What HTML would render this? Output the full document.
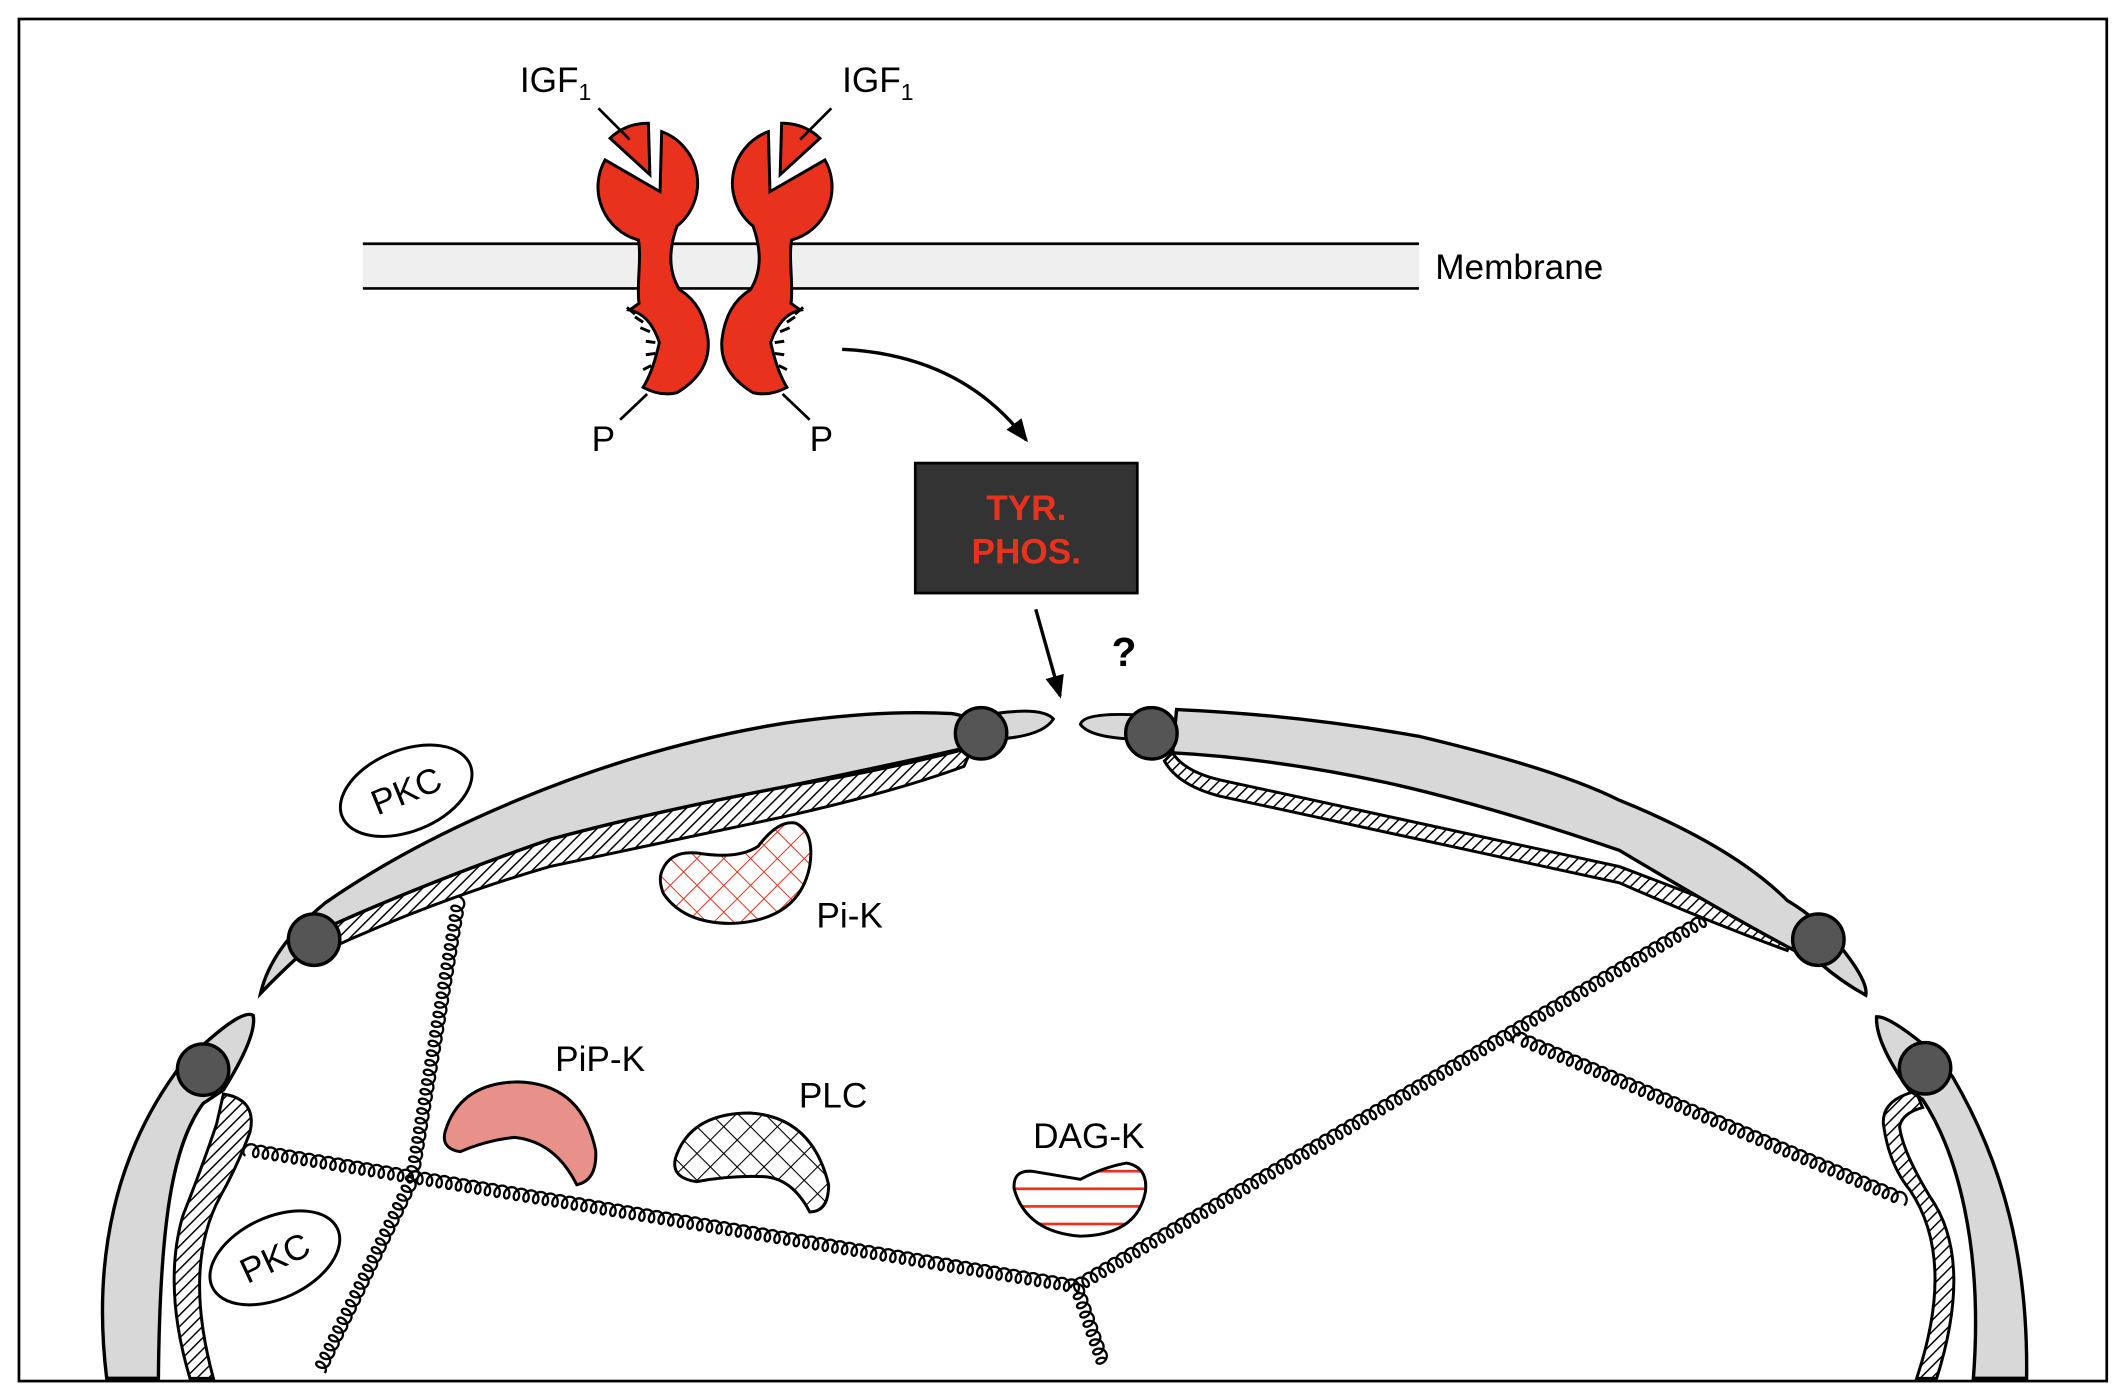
<!DOCTYPE html>
<html><head><meta charset="utf-8"><style>
html,body{margin:0;padding:0;background:#fff;}
svg{display:block;}
text{font-family:"Liberation Sans",sans-serif;}
</style></head><body>
<svg id="s" width="2123" height="1396" viewBox="0 0 1568 1031" xmlns="http://www.w3.org/2000/svg">
<defs>
<pattern id="hatch" width="6" height="6" patternUnits="userSpaceOnUse" patternTransform="rotate(45)">
<rect width="6" height="6" fill="#fff"/><line x1="0" y1="0" x2="0" y2="6" stroke="#000" stroke-width="2.2"/></pattern>
<pattern id="xh" width="14" height="14" patternUnits="userSpaceOnUse" patternTransform="rotate(45)">
<rect width="14" height="14" fill="#fff"/><path d="M0 0V14M0 0H14" stroke="#000" stroke-width="1.6"/></pattern>
<pattern id="xr" width="14" height="14" patternUnits="userSpaceOnUse" patternTransform="rotate(45)">
<rect width="14" height="14" fill="#fff"/><path d="M0 0V14M0 0H14" stroke="#e8321e" stroke-width="1.5"/></pattern>
<pattern id="hr" x="0" y="1" width="10" height="13" patternUnits="userSpaceOnUse">
<rect width="10" height="13" fill="#fff"/><line x1="0" y1="6" x2="10" y2="6" stroke="#e8321e" stroke-width="2"/></pattern>
<marker id="ah" markerWidth="18" markerHeight="14" refX="15" refY="7" orient="auto" markerUnits="userSpaceOnUse"><path d="M0 0L17 7L0 14z" fill="#000"/></marker>
</defs>
<rect x="14" y="14" width="1542" height="1006" fill="#fff" stroke="#000" stroke-width="2"/>
<rect x="268" y="180" width="780" height="33" fill="#efefef"/>
<line x1="268" y1="180" x2="1048" y2="180" stroke="#000" stroke-width="2"/>
<line x1="268" y1="213" x2="1048" y2="213" stroke="#000" stroke-width="2"/>
<text x="1060" y="206" font-size="26">Membrane</text>
<g id="rec">
<path d="M487.5 141.5 L446.9 118.1 A40.6 40.6 0 0 0 471.5 177.2 C474 190 470 212 472 224 L465 229 Q480 232 487 253 Q482 275 475 286 Q488 293 500 290 Q525 275 523 251 Q520 225 502 214 Q490 195 500 167 A40.6 40.6 0 0 0 488.7 97.2 Z" fill="#e8321e" stroke="#000" stroke-width="2.2"/>
<path d="M480 129 L450.6 102.1 A39 39 0 0 1 478.9 91 Z" fill="#e8321e" stroke="#000" stroke-width="2.2"/>
<g stroke="#000" stroke-width="2.2">
<line x1="469" y1="232" x2="463" y2="227"/><line x1="475" y1="238" x2="469" y2="234"/>
<line x1="480" y1="245" x2="473" y2="242"/><line x1="484" y1="253" x2="477" y2="252"/>
<line x1="484" y1="261" x2="477" y2="262"/><line x1="481" y1="270" x2="475" y2="273"/>
</g>
</g>
<use href="#rec" transform="translate(1056.2,0) scale(-1,1)"/>
<g stroke="#000" stroke-width="2">
<line x1="442" y1="80" x2="465" y2="103"/><line x1="614" y1="80" x2="591" y2="103"/>
<line x1="458" y1="310" x2="478" y2="291"/><line x1="598" y1="310" x2="578" y2="291"/>
</g>
<text x="384" y="68" font-size="26">IGF<tspan font-size="17" dy="6">1</tspan></text>
<text x="622" y="68" font-size="26">IGF<tspan font-size="17" dy="6">1</tspan></text>
<text x="437" y="333" font-size="26">P</text>
<text x="598" y="333" font-size="26">P</text>
<path d="M622 258 Q710 262 758 325" fill="none" stroke="#000" stroke-width="2.5" marker-end="url(#ah)"/>
<rect x="676" y="342" width="164" height="96" fill="#333" stroke="#000" stroke-width="2"/>
<text x="758" y="384" font-size="26" font-weight="bold" fill="#e8321e" text-anchor="middle">TYR.</text>
<text x="758" y="416" font-size="26" font-weight="bold" fill="#e8321e" text-anchor="middle">PHOS.</text>
<line x1="765" y1="450" x2="783" y2="514" stroke="#000" stroke-width="2.5" marker-end="url(#ah)"/>
<text x="821" y="492" font-size="30" font-weight="bold">?</text>
<g id="coils" fill="none" stroke="#000" stroke-width="1.7"></g>
<path d="M238 703 Q320 665 406 640 Q500 620 580 603 Q660 585 712 566 L718 552 Q650 570 580 581 Q480 600 406 620 Q320 650 248 682 Z" fill="url(#hatch)" stroke="#000" stroke-width="2.2"/>
<path d="M192.5 733.6 Q200 700 240 667 Q300 625 382 591 Q480 550 580 534 Q650 524 703 527 Q725 530 722 550 Q700 556 580 581 Q480 600 406 620 Q320 650 248 682 Q215 710 192.5 733.6 Z" fill="#d8d8d8" stroke="#000" stroke-width="2.5"/>
<path d="M735 527 Q770 522 778 531 Q770 544 735 546 Z" fill="#d8d8d8" stroke="#000" stroke-width="2.2"/>
<path d="M866 556 Q875 570 901 576 L1196 640 Q1270 668 1325 690 L1320 702 Q1260 680 1196 652 L901 588 Q870 580 860 562 Z" fill="url(#hatch)" stroke="#000" stroke-width="2.2"/>
<path d="M869 524 Q960 528 1049 544 Q1150 568 1196 591 Q1280 625 1320 665 Q1345 680 1360 700 Q1380 725 1378 735 Q1360 725 1345 712 Q1300 690 1196 628 Q1100 595 1024 578 Q940 560 866 556 Z" fill="#d8d8d8" stroke="#000" stroke-width="2.5"/>
<path d="M840 528 Q800 526 798 535 Q805 545 840 546 Z" fill="#d8d8d8" stroke="#000" stroke-width="2.2"/>
<path d="M165 808 Q190 812 184.7 836 Q175 862 162.5 884 Q135 935 157.6 1018 L140.3 1018 Q120 950 135 898 Q150 860 160 830 Z" fill="url(#hatch)" stroke="#000" stroke-width="2.2"/>
<path d="M78.8 1018 C68 930 85 850 135 785 L152 770 Q180 745 187 750 Q190 765 165 805 L150 815 C128 845 118 900 117 1018 Z" fill="#d8d8d8" stroke="#000" stroke-width="2.5"/>
<path d="M1415 806 Q1390 812 1391 830 Q1395 860 1410.7 879 Q1445 930 1415.6 1018 L1430.4 1018 Q1458 930 1425.4 883.8 Q1405 850 1403 832 Q1405 822 1420 818 Z" fill="url(#hatch)" stroke="#000" stroke-width="2.2"/>
<path d="M1496.8 1018 C1498 930 1480 860 1442 795 L1425 775 Q1395 750 1386 751 Q1385 770 1410 805 L1420 812 C1445 850 1465 920 1457.5 1018 Z" fill="#d8d8d8" stroke="#000" stroke-width="2.5"/>
<g fill="#555" stroke="#000" stroke-width="2.5">
<circle cx="724.6" cy="541.6" r="19"/><circle cx="850.4" cy="541.6" r="19"/>
<circle cx="232" cy="694" r="19"/><circle cx="1343" cy="694" r="19"/>
<circle cx="150" cy="790" r="19"/><circle cx="1421.8" cy="789" r="19"/>
</g>
<ellipse cx="300" cy="584" rx="51" ry="30" transform="rotate(-22 300 584)" fill="#fff" stroke="#000" stroke-width="2.2"/>
<text x="300" y="593" font-size="26" text-anchor="middle" transform="rotate(-22 300 584)">PKC</text>
<ellipse cx="203" cy="929" rx="51" ry="30" transform="rotate(-25 203 929)" fill="#fff" stroke="#000" stroke-width="2.2"/>
<text x="203" y="938" font-size="26" text-anchor="middle" transform="rotate(-25 203 929)">PKC</text>
<path d="M489 643 Q495 628 515 630 Q545 635 560 625 Q575 605 588 608 Q602 615 598 640 Q590 680 540 682 Q505 682 490 660 Q486 650 489 643 Z" fill="url(#xr)" stroke="#000" stroke-width="2.2"/>
<text x="603" y="685" font-size="26">Pi-K</text>
<path d="M339.8 850.6 Q325 848 329 835 Q340 800 382 799 Q430 800 440 850 Q441 872 426 875 Q410 843 380 840 Q360 842 339.8 850.6 Z" fill="#e8908a" stroke="#000" stroke-width="2.2"/>
<text x="410" y="791" font-size="26">PiP-K</text>
<path d="M514.6 872.7 Q495 870 499 855 Q510 822 554 822 Q600 825 612 875 Q612 895 598 895 Q585 870 563.8 869 Q540 868 514.6 872.7 Z" fill="url(#xh)" stroke="#000" stroke-width="2.2"/>
<text x="590" y="818" font-size="26">PLC</text>
<path d="M749 878 Q748 864 762 865 Q780 868 798 871 Q815 862 832 859 Q848 862 846 880 Q840 912 798 913 Q758 910 749 878 Z" fill="url(#hr)" stroke="#000" stroke-width="2.2"/>
<text x="763" y="848" font-size="26">DAG-K</text>
</svg>
<script>
(function(){
var g=document.getElementById('coils');
var segs=[[[339,664],[304,872],[236,1012]],[[182,849],[795,950]],[[795,950],[815,1007]],[[795,950],[1268,674]],[[1120,766],[1406,886]]];
var a=1.15,r=4.5,rx=3.6;
segs.forEach(function(pts){
 var d='';
 for(var i=0;i<pts.length-1;i++){
  var x0=pts[i][0],y0=pts[i][1],x1=pts[i+1][0],y1=pts[i+1][1];
  var L=Math.hypot(x1-x0,y1-y0),ux=(x1-x0)/L,uy=(y1-y0)/L,nx=-uy,ny=ux;
  var T=L/a;
  for(var t=0;t<=T;t+=0.2){
   var s=a*t-rx*Math.sin(t), h=r*Math.cos(t);
   var px=x0+ux*s+nx*h, py=y0+uy*s+ny*h;
   d+=(d===''?'M':'L')+px.toFixed(2)+' '+py.toFixed(2);
  }
 }
 var p=document.createElementNS('http://www.w3.org/2000/svg','path');
 p.setAttribute('d',d);g.appendChild(p);
});
})();
</script>
</body></html>
